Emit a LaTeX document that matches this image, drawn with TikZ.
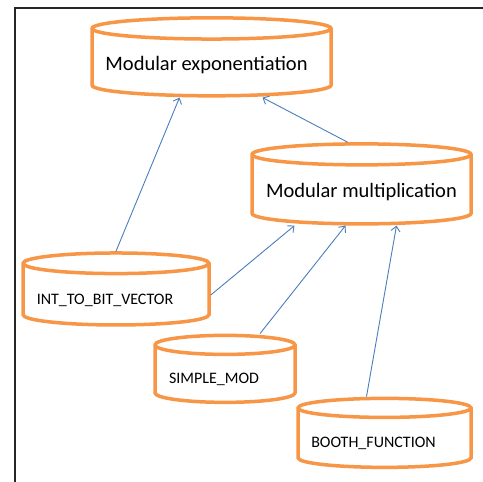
\documentclass[tikz,border=0pt]{standalone}
\usepackage{fontspec}
\setmainfont{Carlito}
\usepackage{tikz}
\usetikzlibrary{shapes.geometric,arrows.meta}
\definecolor{cylorange}{HTML}{F79646}
\definecolor{linkblue}{HTML}{4A7EBB}
\tikzset{
  module/.style={cylinder, shape border rotate=90, draw=cylorange, line width=3.5pt,
                 fill=white, inner sep=0pt, text=black},
  bigmod/.style={module, font=\fontsize{20.5}{24}\selectfont, text height=19pt, text depth=4pt},
  smallmod/.style={module, font=\fontsize{16}{19}\selectfont, text height=20pt, text depth=2pt,
                   execute at end node={\hspace*{22pt}}},
  link/.style={draw=linkblue, line width=0.9pt, -{Straight Barb[length=5pt,width=9pt]}},
}

\begin{document}
\begin{tikzpicture}[x=1pt, y=-1pt]
\useasboundingbox (0,0) rectangle (483,482);
% frame
\draw[line width=2pt, black!85] (483,8) -- (15,8) -- (15,482);

%Nodes
\node[bigmod, minimum width=239pt, minimum height=78pt, aspect=0.1,
      execute at end node={\hspace*{10pt}}] (mexp) at (211.5,63) {Modular exponentiation};
\node[bigmod, minimum width=219pt, minimum height=80pt, aspect=0.11] (mmul) at (361.5,190) {Modular multiplication};
\node[smallmod, minimum width=186pt, minimum height=72pt, aspect=0.13] (intv) at (116,295) {INT\_TO\_BIT\_VECTOR};
\node[smallmod, minimum width=140pt, minimum height=67pt, aspect=0.17] (smod) at (225,374.5) {SIMPLE\_MOD};
\node[smallmod, minimum width=173pt, minimum height=69pt, aspect=0.13] (booth) at (384.5,438.5) {BOOTH\_FUNCTION};

%Lines
\draw[link] (intv.top) -- ([xshift=-32pt]mexp.bottom);
\draw[link] ([xshift=-14pt]mmul.top) -- ([xshift=51pt]mexp.bottom);
\draw[link] (intv.east) -- ([xshift=-67pt]mmul.bottom);
\draw[link] ([xshift=35pt]smod.top) -- ([xshift=-16pt]mmul.bottom);
\draw[link] ([xshift=-18pt]booth.top) -- ([xshift=35pt]mmul.bottom);
\end{tikzpicture}
\end{document}
